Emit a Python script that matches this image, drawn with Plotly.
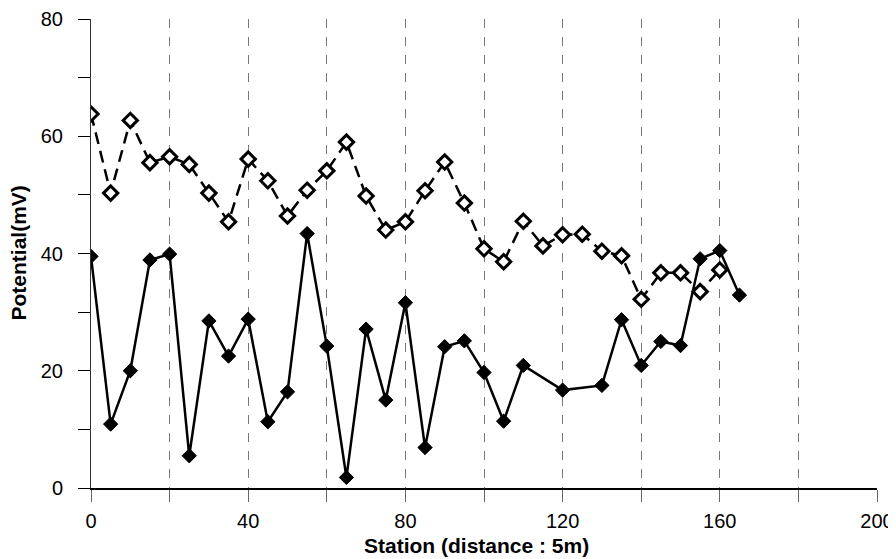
import plotly.graph_objects as go

stations_solid = [0, 5, 10, 15, 20, 25, 30, 35, 40, 45, 50, 55, 60, 65, 70, 75, 80, 85, 90, 95, 100, 105, 110, 120, 130, 135, 140, 145, 150, 155, 160, 165]
potential_solid = [39.5, 10.9, 20.0, 38.9, 39.9, 5.5, 28.5, 22.5, 28.8, 11.3, 16.4, 43.4, 24.2, 1.8, 27.1, 15.0, 31.6, 6.9, 24.1, 25.1, 19.7, 11.4, 20.9, 16.7, 17.5, 28.7, 20.9, 25.0, 24.3, 39.1, 40.5, 32.9]

stations_dashed = [0, 5, 10, 15, 20, 25, 30, 35, 40, 45, 50, 55, 60, 65, 70, 75, 80, 85, 90, 95, 100, 105, 110, 115, 120, 125, 130, 135, 140, 145, 150, 155, 160]
potential_dashed = [63.8, 50.3, 62.7, 55.5, 56.5, 55.2, 50.3, 45.4, 56.1, 52.4, 46.4, 50.8, 54.1, 59.0, 49.8, 44.0, 45.4, 50.7, 55.6, 48.6, 40.8, 38.6, 45.5, 41.3, 43.2, 43.3, 40.4, 39.6, 32.2, 36.7, 36.7, 33.5, 37.2]

x_tick_vals = [0, 20, 40, 60, 80, 100, 120, 140, 160, 180, 200]
x_tick_text = ["0", "", "40", "", "80", "", "120", "", "160", "", "200"]
y_tick_vals = [0, 10, 20, 30, 40, 50, 60, 70, 80]
y_tick_text = ["0", "", "20", "", "40", "", "60", "", "80"]

x_title = "Station (distance : 5m)"
y_title = "Potential(mV)"

fig = go.Figure()
fig.add_trace(go.Scatter(
    x=stations_dashed, y=potential_dashed, mode="lines+markers",
    line=dict(color="black", width=2.5, dash="12px,7px"),
    marker=dict(symbol="diamond", size=11, color="white", line=dict(color="black", width=3)),
    showlegend=False))
fig.add_trace(go.Scatter(
    x=stations_solid, y=potential_solid, mode="lines+markers",
    line=dict(color="black", width=2.5),
    marker=dict(symbol="diamond", size=11, color="black", line=dict(color="black", width=1)),
    showlegend=False))

# page body has an 8px default margin; size figure so the plot lands where the reference has it
fig.update_layout(
    width=888, height=551,
    margin=dict(l=83, r=19, t=11, b=71),
    paper_bgcolor="white", plot_bgcolor="white",
    font=dict(family="Liberation Sans, Arial, sans-serif", color="black", size=20),
    xaxis=dict(
        range=[0, 200], tickvals=x_tick_vals, ticktext=x_tick_text,
        showgrid=True, gridcolor="#777777", gridwidth=1, griddash="dash",
        ticks="outside", ticklen=12, tickcolor="#666666",
        ticklabelstandoff=2,
        showline=True, linecolor="black", linewidth=1.5,
        zeroline=False, automargin=False,
    ),
    yaxis=dict(
        range=[0, 80], tickvals=y_tick_vals, ticktext=y_tick_text,
        showgrid=False, ticks="outside", ticklen=12, tickcolor="black",
        ticklabelstandoff=11,
        showline=True, linecolor="#333333", linewidth=1,
        zeroline=False, automargin=False,
    ),
    annotations=[
        dict(text="<b>" + x_title + "</b>", xref="paper", yref="paper", x=0.491, y=0,
             yshift=-57, xanchor="center", yanchor="middle", showarrow=False,
             font=dict(size=21)),
        dict(text="<b>" + y_title + "</b>", xref="paper", yref="paper", x=0, y=0.5,
             xshift=-73, textangle=-90, xanchor="center", yanchor="middle", showarrow=False,
             font=dict(size=21)),
    ],
)
fig.write_html("out.html")
